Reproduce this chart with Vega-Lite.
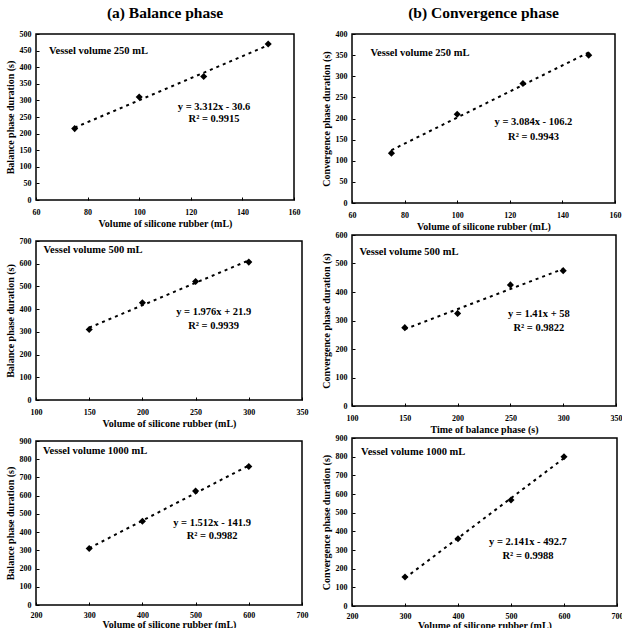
{
  "$schema": "https://vega.github.io/schema/vega-lite/v6.json",
  "padding": {"left": 4, "top": 4, "right": 0, "bottom": 0},
  "background": "white",
  "datasets": {
    "points": [
      {"panel": 1, "x": 75, "y": 215}, {"panel": 1, "x": 100, "y": 310}, {"panel": 1, "x": 125, "y": 372}, {"panel": 1, "x": 150, "y": 470},
      {"panel": 2, "x": 75, "y": 118}, {"panel": 2, "x": 100, "y": 210}, {"panel": 2, "x": 125, "y": 283}, {"panel": 2, "x": 150, "y": 350},
      {"panel": 3, "x": 150, "y": 310}, {"panel": 3, "x": 200, "y": 428}, {"panel": 3, "x": 250, "y": 522}, {"panel": 3, "x": 300, "y": 607},
      {"panel": 4, "x": 150, "y": 275}, {"panel": 4, "x": 200, "y": 325}, {"panel": 4, "x": 250, "y": 425}, {"panel": 4, "x": 300, "y": 475},
      {"panel": 5, "x": 300, "y": 310}, {"panel": 5, "x": 400, "y": 460}, {"panel": 5, "x": 500, "y": 625}, {"panel": 5, "x": 600, "y": 760},
      {"panel": 6, "x": 300, "y": 155}, {"panel": 6, "x": 400, "y": 360}, {"panel": 6, "x": 500, "y": 568}, {"panel": 6, "x": 600, "y": 800}
    ],
    "trend": [
      {"panel": 1, "x": 75, "y": 217.8}, {"panel": 1, "x": 150, "y": 466.2},
      {"panel": 2, "x": 75, "y": 125.1}, {"panel": 2, "x": 150, "y": 356.4},
      {"panel": 3, "x": 150, "y": 318.3}, {"panel": 3, "x": 300, "y": 614.7},
      {"panel": 4, "x": 150, "y": 269.5}, {"panel": 4, "x": 300, "y": 481},
      {"panel": 5, "x": 300, "y": 311.7}, {"panel": 5, "x": 600, "y": 765.3},
      {"panel": 6, "x": 300, "y": 149.6}, {"panel": 6, "x": 600, "y": 791.9}
    ],
    "vessel": [
      {"panel": 1, "label": "Vessel volume  250 mL", "x": 65, "y": 449},
      {"panel": 2, "label": "Vessel volume  250 mL", "x": 67, "y": 355},
      {"panel": 3, "label": "Vessel volume  500 mL", "x": 107, "y": 660},
      {"panel": 4, "label": "Vessel volume  500 mL", "x": 107, "y": 541},
      {"panel": 5, "label": "Vessel volume  1000 mL", "x": 213, "y": 846},
      {"panel": 6, "label": "Vessel volume  1000 mL", "x": 217, "y": 827}
    ],
    "equations": [
      {"panel": 1, "label": "y = 3.312x - 30.6", "x": 129, "y": 279},
      {"panel": 1, "label": "R² = 0.9915", "x": 129, "y": 244},
      {"panel": 2, "label": "y = 3.084x - 106.2", "x": 129, "y": 192},
      {"panel": 2, "label": "R² = 0.9943", "x": 129, "y": 156},
      {"panel": 3, "label": "y = 1.976x + 21.9", "x": 267, "y": 389},
      {"panel": 3, "label": "R² = 0.9939", "x": 267, "y": 327},
      {"panel": 4, "label": "y = 1.41x + 58", "x": 277, "y": 323},
      {"panel": 4, "label": "R² = 0.9822", "x": 277, "y": 273},
      {"panel": 5, "label": "y = 1.512x - 141.9", "x": 531, "y": 451},
      {"panel": 5, "label": "R² = 0.9982", "x": 531, "y": 378},
      {"panel": 6, "label": "y = 2.141x - 492.7", "x": 532, "y": 345},
      {"panel": 6, "label": "R² = 0.9988", "x": 532, "y": 268}
    ]
  },
  "hconcat": [
    {
      "columns": 1, "align": "none", "bounds": "flush", "spacing": 41,
      "concat": [
        {
          "width": 258, "height": 166,
          "title": {"text": "(a) Balance phase", "fontSize": 15.5, "font": "Liberation Serif", "fontWeight": "bold", "offset": 9, "anchor": "middle"},
          "encoding": {
            "x": {"field": "x", "type": "quantitative", "scale": {"domain": [60, 160], "nice": false, "zero": false}, "axis": {"values": [60, 80, 100, 120, 140, 160], "title": "Volume of silicone rubber (mL)"}},
            "y": {"field": "y", "type": "quantitative", "scale": {"domain": [0, 500], "nice": false}, "axis": {"values": [0, 50, 100, 150, 200, 250, 300, 350, 400, 450, 500], "title": "Balance phase duration (s)"}}
          },
          "layer": [
            {"data": {"name": "trend"}, "transform": [{"filter": "datum.panel == 1"}], "mark": {"type": "line", "color": "black", "strokeDash": [3, 4], "strokeWidth": 2}},
            {"data": {"name": "points"}, "transform": [{"filter": "datum.panel == 1"}], "mark": {"type": "point", "shape": "diamond", "filled": true, "color": "black", "opacity": 1, "size": 50}},
            {"data": {"name": "vessel"}, "transform": [{"filter": "datum.panel == 1"}], "mark": {"type": "text", "align": "left", "baseline": "middle", "fontSize": 10.5, "fontWeight": "bold", "font": "Liberation Serif", "color": "black"}, "encoding": {"text": {"field": "label"}}},
            {"data": {"name": "equations"}, "transform": [{"filter": "datum.panel == 1"}], "mark": {"type": "text", "align": "center", "baseline": "middle", "fontSize": 10.5, "fontWeight": "bold", "font": "Liberation Serif", "color": "black"}, "encoding": {"text": {"field": "label"}}}
          ]
        },
        {
          "width": 266, "height": 159,
          "encoding": {
            "x": {"field": "x", "type": "quantitative", "scale": {"domain": [100, 350], "nice": false, "zero": false}, "axis": {"values": [100, 150, 200, 250, 300, 350], "title": "Volume of silicone rubber (mL)"}},
            "y": {"field": "y", "type": "quantitative", "scale": {"domain": [0, 700], "nice": false}, "axis": {"values": [0, 100, 200, 300, 400, 500, 600, 700], "title": "Balance phase duration (s)"}}
          },
          "layer": [
            {"data": {"name": "trend"}, "transform": [{"filter": "datum.panel == 3"}], "mark": {"type": "line", "color": "black", "strokeDash": [3, 4], "strokeWidth": 2}},
            {"data": {"name": "points"}, "transform": [{"filter": "datum.panel == 3"}], "mark": {"type": "point", "shape": "diamond", "filled": true, "color": "black", "opacity": 1, "size": 50}},
            {"data": {"name": "vessel"}, "transform": [{"filter": "datum.panel == 3"}], "mark": {"type": "text", "align": "left", "baseline": "middle", "fontSize": 10.5, "fontWeight": "bold", "font": "Liberation Serif", "color": "black"}, "encoding": {"text": {"field": "label"}}},
            {"data": {"name": "equations"}, "transform": [{"filter": "datum.panel == 3"}], "mark": {"type": "text", "align": "center", "baseline": "middle", "fontSize": 10.5, "fontWeight": "bold", "font": "Liberation Serif", "color": "black"}, "encoding": {"text": {"field": "label"}}}
          ]
        },
        {
          "width": 266, "height": 164,
          "encoding": {
            "x": {"field": "x", "type": "quantitative", "scale": {"domain": [200, 700], "nice": false, "zero": false}, "axis": {"values": [200, 300, 400, 500, 600, 700], "title": "Volume of silicone rubber (mL)", "labelPadding": 9, "titlePadding": 0}},
            "y": {"field": "y", "type": "quantitative", "scale": {"domain": [0, 900], "nice": false}, "axis": {"values": [0, 100, 200, 300, 400, 500, 600, 700, 800, 900], "title": "Balance phase duration (s)"}}
          },
          "layer": [
            {"data": {"name": "trend"}, "transform": [{"filter": "datum.panel == 5"}], "mark": {"type": "line", "color": "black", "strokeDash": [3, 4], "strokeWidth": 2}},
            {"data": {"name": "points"}, "transform": [{"filter": "datum.panel == 5"}], "mark": {"type": "point", "shape": "diamond", "filled": true, "color": "black", "opacity": 1, "size": 50}},
            {"data": {"name": "vessel"}, "transform": [{"filter": "datum.panel == 5"}], "mark": {"type": "text", "align": "left", "baseline": "middle", "fontSize": 10.5, "fontWeight": "bold", "font": "Liberation Serif", "color": "black"}, "encoding": {"text": {"field": "label"}}},
            {"data": {"name": "equations"}, "transform": [{"filter": "datum.panel == 5"}], "mark": {"type": "text", "align": "center", "baseline": "middle", "fontSize": 10.5, "fontWeight": "bold", "font": "Liberation Serif", "color": "black"}, "encoding": {"text": {"field": "label"}}}
          ]
        }
      ]
    },
    {
      "columns": 1, "align": "none", "bounds": "flush", "spacing": 32,
      "concat": [
        {
          "width": 263, "height": 169,
          "title": {"text": "(b) Convergence phase", "fontSize": 15.5, "font": "Liberation Serif", "fontWeight": "bold", "offset": 9, "anchor": "middle"},
          "encoding": {
            "x": {"field": "x", "type": "quantitative", "scale": {"domain": [60, 160], "nice": false, "zero": false}, "axis": {"values": [60, 80, 100, 120, 140, 160], "title": "Volume of silicone rubber (mL)"}},
            "y": {"field": "y", "type": "quantitative", "scale": {"domain": [0, 400], "nice": false}, "axis": {"values": [0, 50, 100, 150, 200, 250, 300, 350, 400], "title": "Convergence phase duration (s)"}}
          },
          "layer": [
            {"data": {"name": "trend"}, "transform": [{"filter": "datum.panel == 2"}], "mark": {"type": "line", "color": "black", "strokeDash": [3, 4], "strokeWidth": 2}},
            {"data": {"name": "points"}, "transform": [{"filter": "datum.panel == 2"}], "mark": {"type": "point", "shape": "diamond", "filled": true, "color": "black", "opacity": 1, "size": 50}},
            {"data": {"name": "vessel"}, "transform": [{"filter": "datum.panel == 2"}], "mark": {"type": "text", "align": "left", "baseline": "middle", "fontSize": 10.5, "fontWeight": "bold", "font": "Liberation Serif", "color": "black"}, "encoding": {"text": {"field": "label"}}},
            {"data": {"name": "equations"}, "transform": [{"filter": "datum.panel == 2"}], "mark": {"type": "text", "align": "center", "baseline": "middle", "fontSize": 10.5, "fontWeight": "bold", "font": "Liberation Serif", "color": "black"}, "encoding": {"text": {"field": "label"}}}
          ]
        },
        {
          "width": 264, "height": 171,
          "encoding": {
            "x": {"field": "x", "type": "quantitative", "scale": {"domain": [100, 350], "nice": false, "zero": false}, "axis": {"values": [100, 150, 200, 250, 300, 350], "title": "Time of balance phase (s)"}},
            "y": {"field": "y", "type": "quantitative", "scale": {"domain": [0, 600], "nice": false}, "axis": {"values": [0, 100, 200, 300, 400, 500, 600], "title": "Convergence phase duration (s)"}}
          },
          "layer": [
            {"data": {"name": "trend"}, "transform": [{"filter": "datum.panel == 4"}], "mark": {"type": "line", "color": "black", "strokeDash": [3, 4], "strokeWidth": 2}},
            {"data": {"name": "points"}, "transform": [{"filter": "datum.panel == 4"}], "mark": {"type": "point", "shape": "diamond", "filled": true, "color": "black", "opacity": 1, "size": 50}},
            {"data": {"name": "vessel"}, "transform": [{"filter": "datum.panel == 4"}], "mark": {"type": "text", "align": "left", "baseline": "middle", "fontSize": 10.5, "fontWeight": "bold", "font": "Liberation Serif", "color": "black"}, "encoding": {"text": {"field": "label"}}},
            {"data": {"name": "equations"}, "transform": [{"filter": "datum.panel == 4"}], "mark": {"type": "text", "align": "center", "baseline": "middle", "fontSize": 10.5, "fontWeight": "bold", "font": "Liberation Serif", "color": "black"}, "encoding": {"text": {"field": "label"}}}
          ]
        },
        {
          "width": 265, "height": 168,
          "encoding": {
            "x": {"field": "x", "type": "quantitative", "scale": {"domain": [200, 700], "nice": false, "zero": false}, "axis": {"values": [200, 300, 400, 500, 600, 700], "title": "Volume of silicone rubber (mL)", "labelPadding": 9, "titlePadding": 0}},
            "y": {"field": "y", "type": "quantitative", "scale": {"domain": [0, 900], "nice": false}, "axis": {"values": [0, 100, 200, 300, 400, 500, 600, 700, 800, 900], "title": "Convergence phase duration (s)"}}
          },
          "layer": [
            {"data": {"name": "trend"}, "transform": [{"filter": "datum.panel == 6"}], "mark": {"type": "line", "color": "black", "strokeDash": [3, 4], "strokeWidth": 2}},
            {"data": {"name": "points"}, "transform": [{"filter": "datum.panel == 6"}], "mark": {"type": "point", "shape": "diamond", "filled": true, "color": "black", "opacity": 1, "size": 50}},
            {"data": {"name": "vessel"}, "transform": [{"filter": "datum.panel == 6"}], "mark": {"type": "text", "align": "left", "baseline": "middle", "fontSize": 10.5, "fontWeight": "bold", "font": "Liberation Serif", "color": "black"}, "encoding": {"text": {"field": "label"}}},
            {"data": {"name": "equations"}, "transform": [{"filter": "datum.panel == 6"}], "mark": {"type": "text", "align": "center", "baseline": "middle", "fontSize": 10.5, "fontWeight": "bold", "font": "Liberation Serif", "color": "black"}, "encoding": {"text": {"field": "label"}}}
          ]
        }
      ]
    }
  ],
  "spacing": 11,
  "config": {
    "font": "Liberation Serif",
    "view": {"stroke": "black", "strokeWidth": 1.5},
    "axis": {
      "grid": false, "domain": false,
      "labelFont": "Liberation Serif", "labelFontWeight": "bold", "labelFontSize": 8, "labelColor": "black",
      "titleFont": "Liberation Serif", "titleFontWeight": "bold", "titleFontSize": 10, "titleColor": "black",
      "tickColor": "black", "tickSize": -3, "tickWidth": 1, "labelFlush": false, "labelOverlap": false
    },
    "axisX": {"labelPadding": 11, "titlePadding": 2},
    "axisY": {"labelPadding": 8, "titlePadding": 4}
  }
}
